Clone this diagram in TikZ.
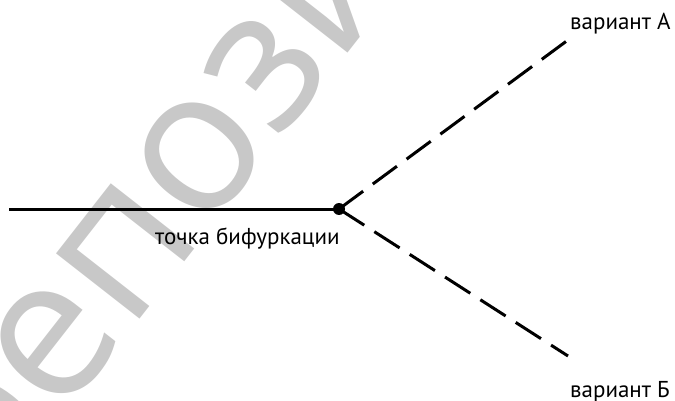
\documentclass[tikz,border=0pt]{standalone}
\usepackage{fontspec}
\setmainfont{PT Sans}
\newfontfamily\markfont{Open Sans}
\definecolor{markgray}{HTML}{C8C8C8}
\tikzset{
  mainline/.style={line width=3pt, black},
  branch/.style={line width=3pt, black, dash pattern=on 30pt off 12pt},
  lbl/.style={font=\fontsize{23}{25}\selectfont, inner sep=0pt},
  junction/.style={circle, fill=black, inner sep=0pt, minimum size=12pt}
}
\begin{document}
\begin{tikzpicture}[x=1pt, y=-1pt]
  \useasboundingbox (0,0) rectangle (675,401);
  % watermark lettering
  \begin{scope}
    \clip (0,0) rectangle (675,401);
    \node[anchor=base west, rotate=52, inner sep=0pt, text=markgray,
          font=\markfont\fontsize{198}{198}\selectfont] (wm) at (-14,516) {репозиторий};
  \end{scope}
  % bifurcation point and branches
  \coordinate (start) at (9,209);
  \node[junction] (bif) at (339,209) {};
  \coordinate (endA) at (568,40);
  \coordinate (endB) at (568,356);
  \draw[mainline] (start) -- (bif.center);
  \draw[branch] (bif.center) -- (endA);
  \draw[branch] (bif.center) -- (endB);
  % labels
  \node[lbl, anchor=base west] (la) at (570,30) {вариант А};
  \node[lbl, anchor=base west] (lb) at (570,397) {вариант Б};
  \node[lbl, anchor=base west] (lp) at (155,244) {точка бифуркации};
\end{tikzpicture}
\end{document}
